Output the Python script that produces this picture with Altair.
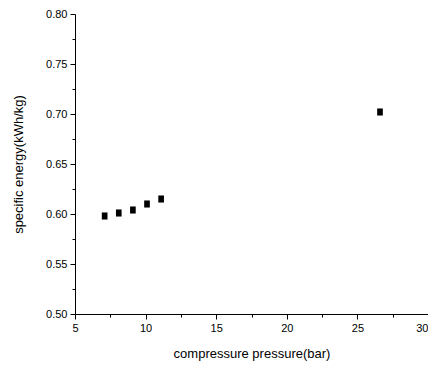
import altair as alt
import pandas as pd

pressure = [7.1, 8.1, 9.1, 10.1, 11.1, 26.6]
energy = [0.598, 0.601, 0.604, 0.610, 0.615, 0.702]
x_major = [5, 10, 15, 20, 25, 30]
x_minor = [7.5, 12.5, 17.5, 22.5, 27.5]
y_major = [0.50, 0.55, 0.60, 0.65, 0.70, 0.75, 0.80]
y_minor = [0.525, 0.575, 0.625, 0.675, 0.725, 0.775]

df = pd.DataFrame({"p": pressure, "e": energy})

FONT = "Liberation Sans"
xscale = alt.Scale(domain=[5, 30], nice=False, zero=False)
yscale = alt.Scale(domain=[0.5, 0.8], nice=False, zero=False)

pts = alt.Chart(df).mark_point(
    shape="M-0.8,-1H0.8V1H-0.8Z", filled=True, color="black", opacity=1, size=50
).encode(
    x=alt.X("p:Q", scale=xscale, axis=alt.Axis(
        orient="bottom", values=x_major, title="compressure pressure(bar)",
        format="d", tickSize=5, labelPadding=3, titlePadding=14, labelFlush=False,
        labelAlign={"condition": {"test": "datum.value == 30", "value": "right"}, "value": "center"},
        domainColor="black", tickColor="black", labelColor="black",
        titleColor="black", labelFont=FONT, titleFont=FONT,
        labelFontSize=11, titleFontSize=13, titleFontWeight="normal", grid=False)),
    y=alt.Y("e:Q", scale=yscale, axis=alt.Axis(
        orient="left", values=y_major, title="specific energy(kWh/kg)",
        format=".2f", tickSize=5, labelPadding=3, titlePadding=20, labelFlush=False,
        domainColor="black", tickColor="black", labelColor="black",
        titleColor="black", labelFont=FONT, titleFont=FONT,
        labelFontSize=11, titleFontSize=13, titleFontWeight="normal", grid=False)),
)

minor = alt.Chart(df).mark_point(opacity=0).encode(
    x=alt.X("p:Q", scale=xscale, axis=alt.Axis(
        orient="bottom", values=x_minor, labels=False, title=None, domain=False,
        tickSize=3, tickColor="black", grid=False)),
    y=alt.Y("e:Q", scale=yscale, axis=alt.Axis(
        orient="left", values=y_minor, labels=False, title=None, domain=False,
        tickSize=3, tickColor="black", grid=False)),
)

chart = alt.layer(pts, minor).resolve_axis(x="independent", y="independent").properties(
    width=353, height=300,
    autosize=alt.AutoSizeParams(type="none"),
    padding={"left": 67, "top": 6, "right": 0, "bottom": 50},
).configure_view(stroke=None)

chart.save("out.html", embed_options={"renderer": "svg", "actions": False})
